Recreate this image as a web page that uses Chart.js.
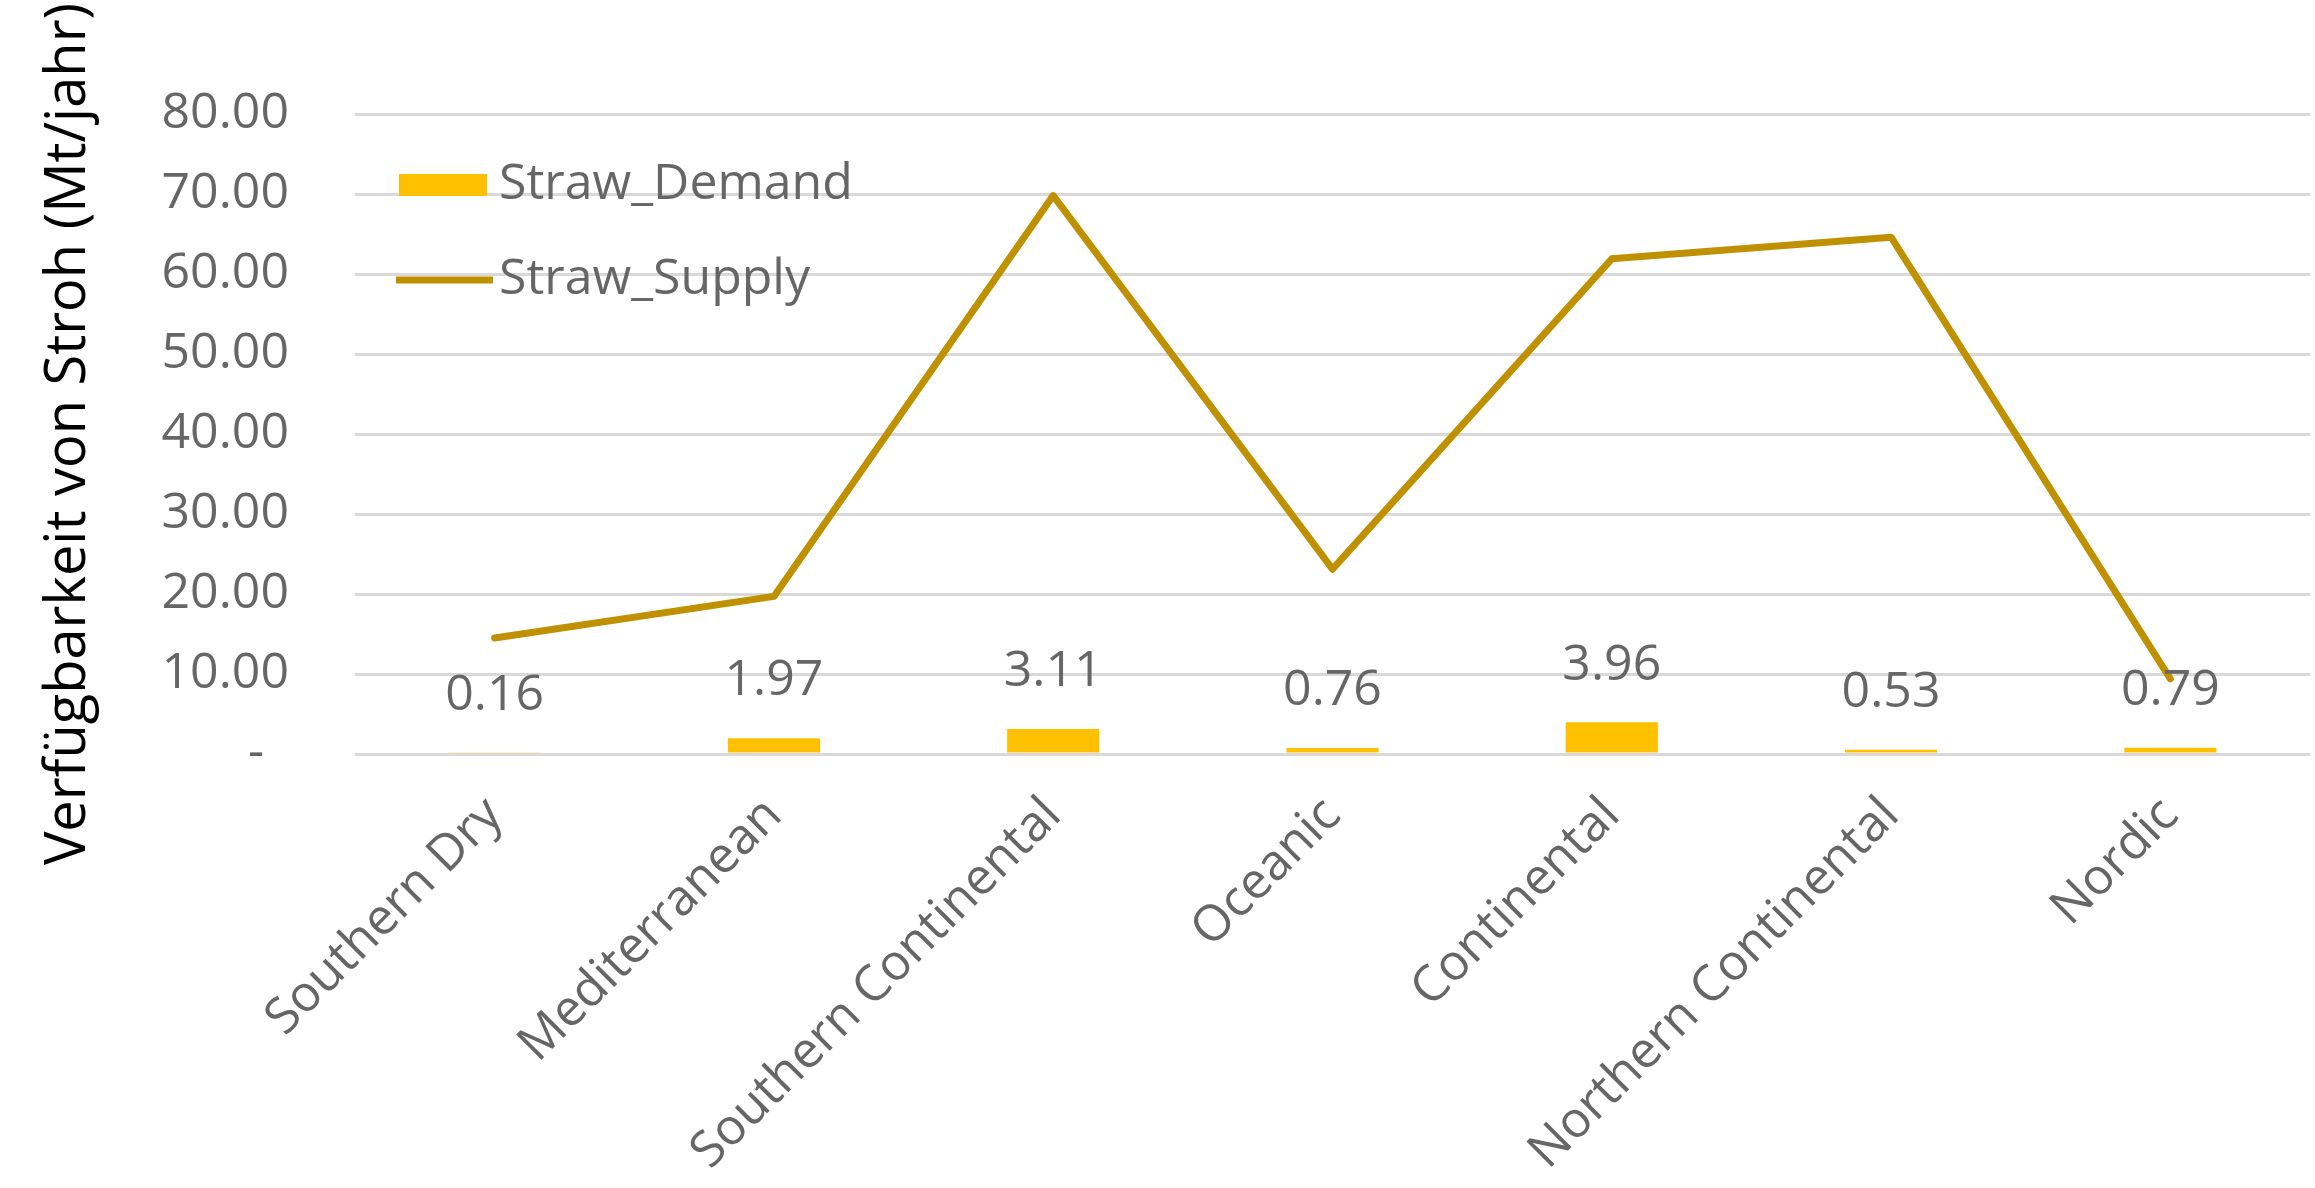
<!DOCTYPE html>
<html>
<head>
<meta charset="utf-8">
<script src="https://cdn.jsdelivr.net/npm/chart.js@4/dist/chart.umd.min.js"></script>
<style>
  html, body { margin: 0; padding: 0; background: #fff; }
  canvas { display: block; }
</style>
</head>
<body>
<canvas id="strawChart" width="2315" height="1188"></canvas>
<script>
const regions = ['Southern Dry', 'Mediterranean', 'Southern Continental', 'Oceanic', 'Continental', 'Northern Continental', 'Nordic'];
const strawDemand = [0.16, 1.97, 3.11, 0.76, 3.96, 0.53, 0.79];
const strawSupply = [14.5, 19.7, 69.8, 23.1, 61.9, 64.6, 9.4];
const yTicks = [0, 10, 20, 30, 40, 50, 60, 70, 80];

const FONT = "'Open Sans', 'Noto Sans', sans-serif";
const GREY = '#666666';

// value labels above the bars
const barLabels = {
  id: 'barLabels',
  afterDatasetsDraw(chart) {
    const ctx = chart.ctx;
    const meta = chart.getDatasetMeta(0);
    ctx.save();
    ctx.font = '50px ' + FONT;
    ctx.fillStyle = GREY;
    ctx.textAlign = 'center';
    ctx.textBaseline = 'middle';
    meta.data.forEach((bar, i) => {
      ctx.fillText(strawDemand[i].toFixed(2), bar.x, bar.y - 57);
    });
    ctx.restore();
  }
};

// legend drawn inside the plot, top left
const innerLegend = {
  id: 'innerLegend',
  afterDraw(chart) {
    const ctx = chart.ctx;
    const area = chart.chartArea;
    const ds = chart.data.datasets;
    const x0 = area.left + 44;
    const y0 = area.top + 71;
    ctx.save();
    ctx.font = '50px ' + FONT;
    ctx.textBaseline = 'middle';
    ctx.fillStyle = ds[0].backgroundColor;
    ctx.fillRect(x0, y0 - 11, 88, 22);
    ctx.strokeStyle = ds[1].borderColor;
    ctx.lineWidth = 7;
    ctx.beginPath();
    ctx.moveTo(x0 - 3, y0 + 95);
    ctx.lineTo(x0 + 94, y0 + 95);
    ctx.stroke();
    ctx.fillStyle = GREY;
    ctx.fillText(ds[0].label, x0 + 100, y0);
    ctx.fillText(ds[1].label, x0 + 100, y0 + 95);
    ctx.restore();
  }
};

new Chart(document.getElementById('strawChart'), {
  type: 'bar',
  data: {
    labels: regions,
    datasets: [
      {
        type: 'bar',
        label: 'Straw_Demand',
        data: strawDemand,
        backgroundColor: '#FFC000',
        categoryPercentage: 1,
        barPercentage: 0.33,
        order: 2
      },
      {
        type: 'line',
        label: 'Straw_Supply',
        data: strawSupply,
        borderColor: '#BF9000',
        borderWidth: 7,
        pointRadius: 0,
        tension: 0,
        borderJoinStyle: 'round',
        borderCapStyle: 'round',
        order: 1
      }
    ]
  },
  options: {
    responsive: false,
    animation: false,
    layout: { padding: { top: 114, right: 5, left: 0, bottom: 0 } },
    plugins: {
      legend: { display: false },
      tooltip: { enabled: false }
    },
    scales: {
      x: {
        grid: { display: false, drawTicks: false },
        border: { display: false },
        ticks: {
          color: GREY,
          font: { family: FONT, size: 50 },
          minRotation: 45,
          maxRotation: 45,
          padding: 32
        },
        afterFit(scale) { scale.height = 1188 - 754; }
      },
      y: {
        min: 0,
        max: 80,
        afterBuildTicks(scale) { scale.ticks = yTicks.map(v => ({ value: v })); },
        grid: { color: '#d9d9d9', lineWidth: 3, drawTicks: false },
        border: { display: false },
        ticks: {
          color: GREY,
          font: { family: FONT, size: 50 },
          padding: 66,
          callback: v => v === 0 ? '-\u2002' : v.toFixed(2)
        },
        title: {
          display: true,
          text: 'Verfügbarkeit von Stroh (Mt/jahr)',
          color: '#000000',
          font: { family: FONT, size: 56, lineHeight: 1.2 },
          padding: { top: 35, bottom: 0 }
        },
        afterFit(scale) { scale.width = 355; }
      }
    }
  },
  plugins: [barLabels, innerLegend]
});
</script>
</body>
</html>
